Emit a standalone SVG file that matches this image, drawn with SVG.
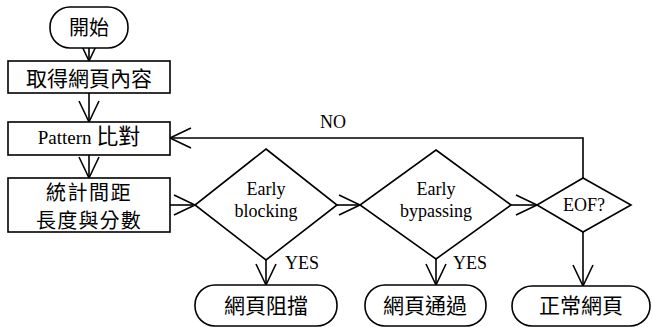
<svg xmlns="http://www.w3.org/2000/svg" width="652" height="327" viewBox="0 0 652 327">
<defs>
<marker id="arr" markerUnits="userSpaceOnUse" markerWidth="24" markerHeight="24" viewBox="-22 -12 24 24" refX="0" refY="0" orient="auto">
<path d="M-21,-10 L0,0 L-21,10" fill="none" stroke="#000" stroke-width="1.6"/>
</marker>
</defs>
<style>
.shape{fill:#fff;stroke:#000;stroke-width:1.6}
.cjk{font-family:"Noto Sans CJK TC","Noto Sans CJK SC",sans-serif;font-size:21px;text-anchor:middle;dominant-baseline:central;fill:#000}
.lat{font-family:"Liberation Serif","Noto Sans CJK TC",serif;font-size:18px;text-anchor:middle;fill:#000}
.conn{fill:none;stroke:#000;stroke-width:1.6;marker-end:url(#arr)}
</style>
<rect width="652" height="327" fill="#fff"/>
<g id="connectors">
<line class="conn" x1="89" y1="48" x2="89" y2="61"/>
<line class="conn" x1="89" y1="93" x2="89" y2="122"/>
<line class="conn" x1="89" y1="155" x2="89" y2="178"/>
<line class="conn" x1="170" y1="205" x2="195" y2="205"/>
<line class="conn" x1="266" y1="260" x2="266" y2="285"/>
<line class="conn" x1="337" y1="205" x2="360" y2="205"/>
<line class="conn" x1="436" y1="259" x2="436" y2="285"/>
<line class="conn" x1="511" y1="205" x2="537" y2="205"/>
<line class="conn" x1="583" y1="232" x2="583" y2="286"/>
<polyline class="conn" points="583,178 583,138 170,138"/>
<text class="lat" x="333" y="128">NO</text>
<text class="lat" x="302" y="269">YES</text>
<text class="lat" x="470" y="269">YES</text>
</g>
<g id="start">
<rect class="shape" x="50" y="7" width="78" height="41" rx="20" ry="20"/>
<text class="cjk" x="89" y="26" style="font-size:20px">開始</text>
</g>
<g id="fetch">
<rect class="shape" x="8" y="61" width="162" height="32"/>
<text class="cjk" x="89" y="77">取得網頁內容</text>
</g>
<g id="pattern">
<rect class="shape" x="8" y="122" width="162" height="33"/>
<text class="lat" x="89" y="144" style="font-size:19px">Pattern <tspan style="font-family:'Noto Sans CJK TC',sans-serif;font-size:22px">比對</tspan></text>
</g>
<g id="stats">
<rect class="shape" x="8" y="178" width="162" height="54"/>
<text class="cjk" x="89" y="191" style="font-size:20px;letter-spacing:1.5px">統計間距</text>
<text class="cjk" x="89" y="219" style="font-size:20px;letter-spacing:1.2px">長度與分數</text>
</g>
<g id="early-blocking">
<polygon class="shape" points="266,149 337,205 266,260 195,205"/>
<text class="lat" x="266" y="195">Early</text>
<text class="lat" x="266" y="217">blocking</text>
</g>
<g id="early-bypassing">
<polygon class="shape" points="436,150 511,205 436,259 360,205"/>
<text class="lat" x="436" y="195">Early</text>
<text class="lat" x="436" y="217">bypassing</text>
</g>
<g id="eof">
<polygon class="shape" points="583,178 631,205 583,232 537,205"/>
<text class="lat" x="584" y="211">EOF?</text>
</g>
<g id="block">
<rect class="shape" x="195" y="285" width="142" height="41" rx="20" ry="20"/>
<text class="cjk" x="266" y="304">網頁阻擋</text>
</g>
<g id="pass">
<rect class="shape" x="365" y="285" width="121" height="41" rx="20" ry="20"/>
<text class="cjk" x="425" y="304">網頁通過</text>
</g>
<g id="normal">
<rect class="shape" x="512" y="286" width="138" height="40" rx="20" ry="20"/>
<text class="cjk" x="581" y="304">正常網頁</text>
</g>
</svg>
